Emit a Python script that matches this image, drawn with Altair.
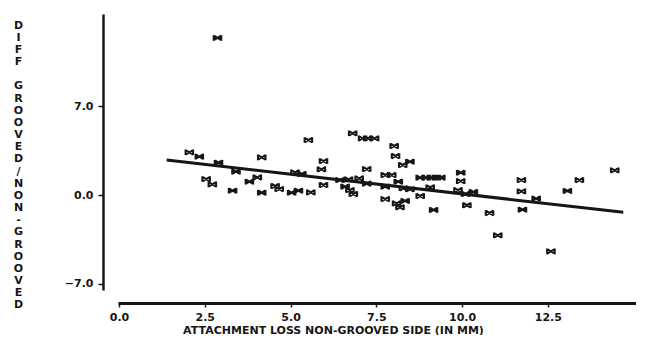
import altair as alt
import pandas as pd

# Scatter data: attachment loss (non-grooved side, mm) vs difference grooved/non-grooved
xs = [2.87, 2.05, 2.34, 2.90, 3.41, 4.16, 2.54, 2.72, 3.31, 3.80, 4.03, 4.16, 4.55, 4.67,
      5.03, 5.23, 5.59, 5.13, 5.33, 5.96, 5.90, 5.96, 5.52, 6.81, 7.10, 7.25, 7.45, 8.02,
      8.06, 8.27, 8.48, 7.22, 7.76, 7.95, 8.78, 8.95, 9.10, 9.25, 9.38, 6.44, 6.69, 7.00,
      6.59, 6.73, 6.83, 7.76, 8.14, 8.29, 8.48, 8.78, 9.07, 7.76, 8.09, 8.34, 8.19, 9.17,
      9.96, 9.96, 9.88, 10.10, 10.33, 10.14, 10.80, 11.04, 11.73, 11.73, 11.76, 12.16,
      12.59, 13.07, 13.42, 14.45, 7.22]
ys = [12.40, 3.37, 3.03, 2.55, 1.84, 2.97, 1.26, 0.84, 0.34, 1.05, 1.39, 0.18, 0.71, 0.47,
      0.18, 0.34, 0.21, 1.79, 1.66, 0.79, 2.03, 2.68, 4.34, 4.87, 4.47, 4.47, 4.47, 3.87,
      3.08, 2.37, 2.63, 2.05, 1.58, 1.58, 1.37, 1.37, 1.37, 1.37, 1.37, 1.18, 1.24, 1.32,
      0.66, 0.39, 0.08, 0.66, 1.05, 0.53, 0.45, -0.08, 0.61, -0.32, -0.66, -0.47, -0.97, -1.18,
      1.76, 1.10, 0.39, 0.08, 0.24, -0.81, -1.42, -3.18, 1.18, 0.29, -1.16, -0.29,
      -4.45, 0.32, 1.18, 1.95, 0.90]

# Fitted regression line end points
line_x = [1.39, 14.70]
line_y = [2.76, -1.37]

x_ticks = [0.0, 2.5, 5.0, 7.5, 10.0, 12.5]
y_ticks = [-7.0, 0.0, 7.0]

x_title = "ATTACHMENT LOSS NON-GROOVED SIDE (IN MM)"
y_title = list("DIFF") + ["\u2800"] + list("GROOVED/NON-GROOVED")

pts = pd.DataFrame({"x": xs, "y": ys})
ln = pd.DataFrame({"x": line_x, "y": line_y})

FONT = "DejaVu Sans"
INK = "#161616"

xscale = alt.Scale(domain=[-0.03, 15.07], nice=False, zero=False)
yscale = alt.Scale(domain=[-7.5, 14.29], nice=False, zero=False)

xaxis = alt.Axis(values=x_ticks, format=".1f", grid=False, offset=13,
                 domainWidth=3, domainColor=INK, tickColor=INK, tickWidth=1.5, tickSize=4,
                 labelPadding=4, labelFont=FONT, labelFontWeight="bold", labelFontSize=11,
                 labelColor=INK, title=x_title, titleFont=FONT, titleFontWeight="bold",
                 titleFontSize=11, titleColor=INK, titleX=215, titleY=27,
                 titleAlign="center", titleBaseline="middle", titleAnchor="start")
yaxis = alt.Axis(values=y_ticks, format=".1f", grid=False, offset=15,
                 domainWidth=2.5, domainColor=INK, tickColor=INK, tickWidth=1.5, tickSize=5,
                 labelPadding=5, labelFont=FONT, labelFontWeight="bold", labelFontSize=11,
                 labelColor=INK, title=y_title, titleFont=FONT, titleFontWeight="bold",
                 titleFontSize=11, titleColor=INK, titleAngle=0, titleX=-85, titleY=5,
                 titleAlign="center", titleBaseline="top", titleLineHeight=12.17,
                 titleAnchor="start")

bowtie = "M-1,-0.6L1,0.6M-1,0.6L1,-0.6M-1,-0.75L-1,0.75M1,-0.75L1,0.75"

points = alt.Chart(pts).mark_point(shape=bowtie, size=56, filled=False, color=INK,
                                   strokeWidth=2.1, opacity=1).encode(
    x=alt.X("x:Q", scale=xscale, axis=xaxis),
    y=alt.Y("y:Q", scale=yscale, axis=yaxis),
)

reg = alt.Chart(ln).mark_line(color=INK, strokeWidth=3).encode(
    x=alt.X("x:Q", scale=xscale),
    y=alt.Y("y:Q", scale=yscale),
)

chart = alt.layer(points, reg).properties(
    width=518, height=276,
    padding={"left": 5, "top": 6, "right": 0, "bottom": 0},
    background="white",
).configure_view(stroke=None)

chart.save("out.html", embed_options={"renderer": "svg", "actions": False})
